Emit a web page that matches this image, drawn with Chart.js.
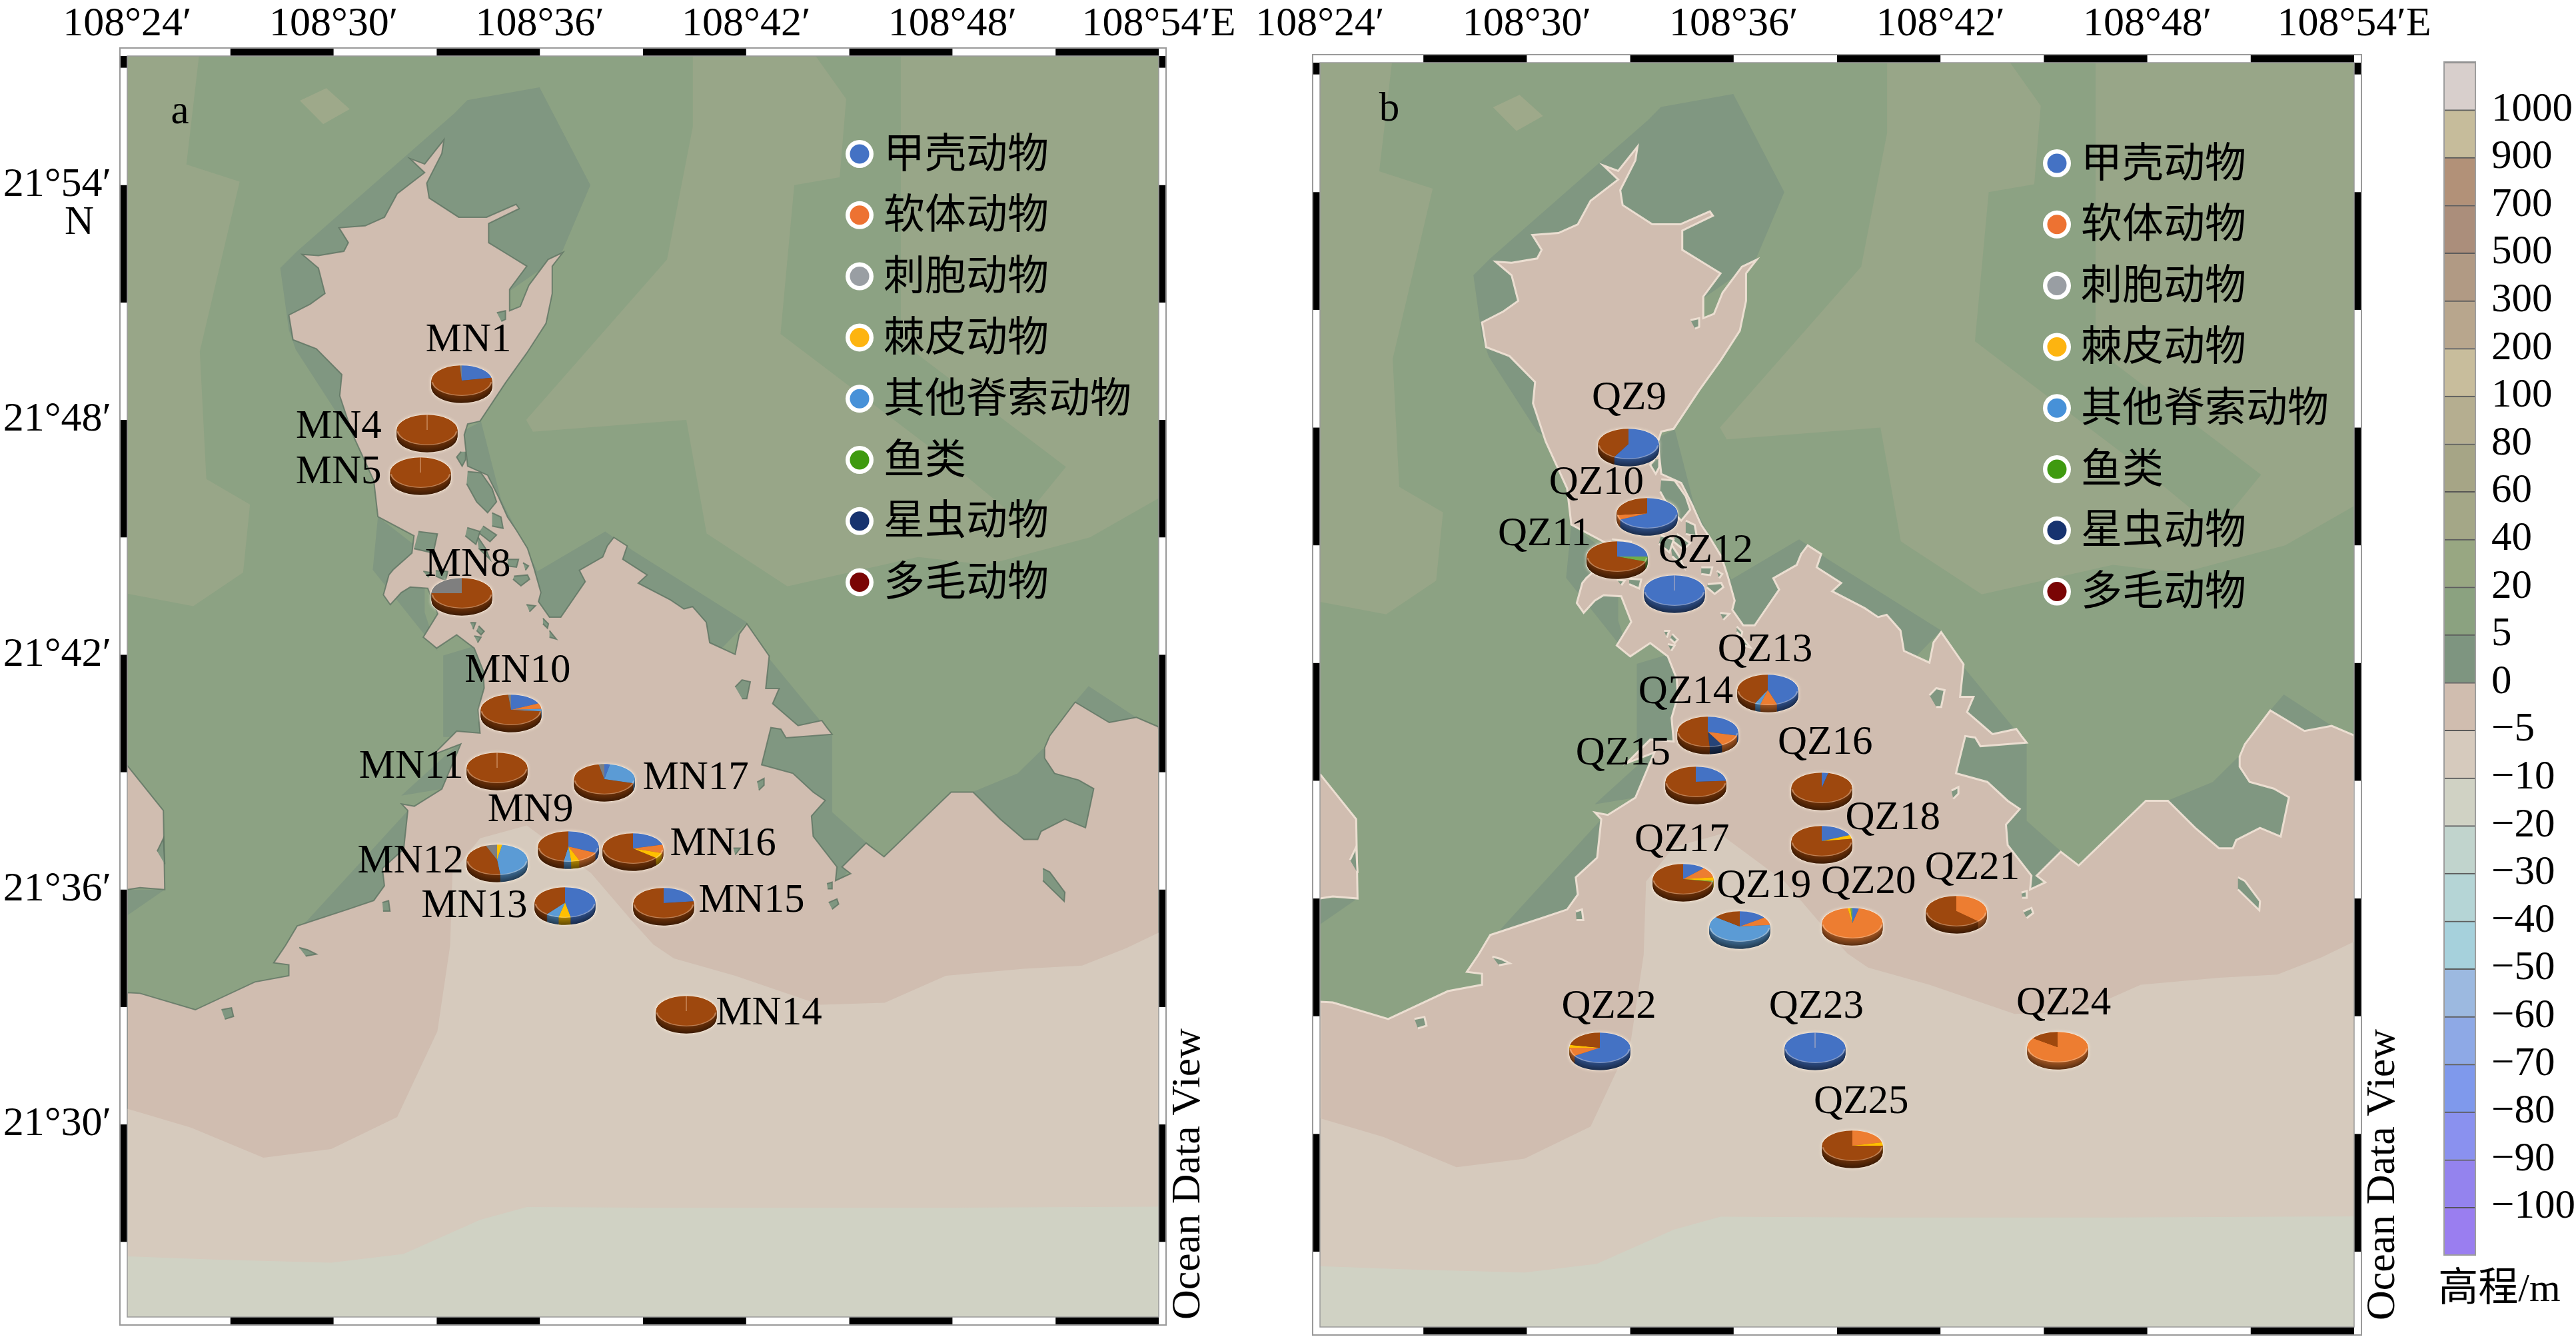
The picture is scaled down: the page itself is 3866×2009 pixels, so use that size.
<!DOCTYPE html>
<html lang="zh">
<head>
<meta charset="utf-8">
<title>Pie map</title>
<script src="https://cdn.jsdelivr.net/npm/chart.js@4"></script>
<style>
html,body{margin:0;padding:0;background:#fff}
#stage{position:relative;width:3866px;height:2009px;overflow:hidden;background:#fff}
#stage canvas{position:absolute}
</style>
</head>
<body>
<div id="stage"></div>
<script>
/* ---------- DATA: longitude = 108° + minutes, latitude = 21° + minutes ---------- */
const lonTicks = [24,30,36,42,48,54];
const lonTickLabels = ["108°24′","108°30′","108°36′","108°42′","108°48′","108°54′E"];
const latTicks = [30,36,42,48,54];
const latTickLabels = ["21°30′","21°36′","21°42′","21°48′","21°54′"];

const sliceNames = ["甲壳动物","软体动物","棘皮动物","其他脊索动物","鱼类","星虫动物","多毛动物","刺胞动物"];
const legendNames = ["甲壳动物","软体动物","刺胞动物","棘皮动物","其他脊索动物","鱼类","星虫动物","多毛动物"];

const mnNames = ["MN1","MN4","MN5","MN8","MN9","MN10","MN11","MN12","MN13","MN14","MN15","MN16","MN17"];
const mnLon = [33.73,32.73,32.53,33.73,36.83,35.16,34.76,34.76,36.73,40.26,39.60,38.71,37.88];
const mnLat = [49.01,47.74,46.66,43.57,37.11,40.60,39.11,36.76,35.67,32.89,35.65,37.05,38.82];
/* shares, column order follows sliceNames */
const mnShares = [
 [22,0,0,0,0,0,77,1],
 [0,0,0,0,0,0,100,0],
 [0,0,0,0,0,0,100,0],
 [0,0,0,0,0,0,75,25],
 [32,12,4.5,4,0,0,47.5,0],
 [18,6,0,2.5,0,0,72,1.5],
 [0,0,0,0,0,0,100,0],
 [0,0,2.7,45.6,0,0,45.7,6],
 [47,0,6.5,7,0,0,39.5,0],
 [0,0,0,0,0,0,100,0],
 [23,0,0,0,0,0,77,0],
 [21,9,6,0,0,0,64,0],
 [3,0,0,26.5,0,0,67.5,3]
];
const qzNames = ["QZ9","QZ10","QZ11","QZ12","QZ13","QZ14","QZ15","QZ16","QZ17","QZ18","QZ19","QZ20","QZ21","QZ22","QZ23","QZ24","QZ25"];
const qzLon = [32.95,33.49,32.62,34.28,36.99,35.25,34.90,38.56,34.54,38.55,36.18,39.45,42.46,32.11,38.36,45.40,39.45];
const qzLat = [47.59,45.82,44.71,43.84,41.31,40.25,38.98,38.82,36.49,37.47,35.28,35.37,35.67,32.19,32.19,32.22,29.70];
const qzShares = [
 [58,0,0,0,0,0,42,0],
 [68,5,0,0,0,0,27,0],
 [25,0,0,0,5.5,0,69.5,0],
 [100,0,0,0,0,0,0,0],
 [45,9,0,3,0,0,43,0],
 [29,13,0,0,0,7,51,0],
 [24,0,0,0,0,0,76,0],
 [3.5,0,0,0,0,0,96.5,0],
 [12,11,4,0,1,0,72,0],
 [18.5,0,4,0,0,0,77.5,0],
 [15,8.5,0,62,0,0,14.5,0],
 [3.5,94,1.5,0,1,0,0,0],
 [0,37,0,0,0,0,63,0],
 [66,9,3,0,0,0,22,0],
 [100,0,0,0,0,0,0,0],
 [0,85,0,0,0,0,15,0],
 [0,21.5,3.5,0,0,0,75,0]
];

const depthLevels = ["−100","−90","−80","−70","−60","−50","−40","−30","−20","−10","−5","0","5","20","40","60","80","100","200","300","500","700","900","1000"];

/* coastline and contour outlines, [lon′, lat′] */
const landFrame = [[24,25],[54,25],[54,58],[24,58]];
const landLightWest = [[24,57.4],[26.1,57.4],[25.72,54.53],[27.27,54.09],[26.11,49.75],[26.3,46.49],[27.57,45.84],[27.37,44.1],[25.92,43.24],[24,43.56]];
const landLightPatch = [[29.02,56.16],[29.79,56.48],[30.47,55.94],[29.7,55.56]];
const landLightEast = [[40.45,57.4],[40.45,55.5],[39.7,52.1],[35.6,48.0],[35.8,47.7],[40.26,48.0],[40.85,45.1],[43.2,43.75],[47,44.5],[49,44.3],[52,45],[54,46],[54,57.4]];
const landMidStrip = [[43.94,57.4],[44.91,56.2],[44.72,54.2],[43.4,54],[43,50.2],[47.8,47],[50,45.4],[51.3,46.8],[46.5,50],[46.5,57.4]];
const landLowBands = [
 [[28.45,51.88],[28.7,50.3],[28.9,49.8],[30.3,47.9],[31,47.5],[33,50],[36.6,52.2],[37.47,54],[35.99,56.5],[33.89,56.17],[33.52,55.84],[28.94,52.31]],
 [[34.29,47.96],[34.87,45.97],[35.93,44.13],[37.9,45.15],[38.71,44.66],[42.02,42.83],[41,41.9],[35,42],[33.5,47.6]],
 [[42.67,41.9],[44.15,40.32],[43.5,40],[42.5,41]],
 [[42.7,40.2],[44.5,39.97],[44.5,37.98],[45.5,37.2],[44.6,36],[43.5,37.5],[42.3,39]],
 [[48.6,38.5],[49.9,38.97],[50.63,39.6],[52.2,38.6],[51.9,37.5],[50,37.2]],
 [[51.96,41.2],[53.35,40.4],[52.56,40.2],[51.57,40.8]],
 [[33.19,41.98],[33.19,39.9],[34.4,39.9],[34.4,42.3]],
 [[33.7,39.78],[31.97,38.4],[33.15,38.57]],
 [[32.16,38.02],[29.14,35.12],[31.42,35.72],[32.16,36.98]],
 [[31.29,45.53],[31.14,44.17],[33.02,42.1],[32.65,43.08],[32.65,44.6]],
 [[24,36],[25.09,36],[24,35.34]]
];
const seaWestPocket = [[24,39.17],[25.05,38.02],[25.09,36],[24.37,36.05],[24,36]];
const seaShallow = [[24,25],[24,33.37],[24.37,33.35],[25.98,32.93],[27.71,33.64],[28.7,33.8],[28.7,34.08],[28.26,34.13],[28.6,34.57],[28.94,35.07],[30.43,35.5],[31.17,35.72],[31.48,36.1],[31.42,36.54],[32.04,37.04],[32.16,38.02],[31.98,38.19],[32.35,38.13],[33.15,38.57],[33.7,39.72],[32.9,39.45],[33.58,40.05],[34.26,40],[34.2,40.6],[34.38,41.15],[34.35,41.6],[34.09,42.17],[33.58,42.51],[33,42.17],[32.61,42.45],[33.03,43.05],[32.74,43.7],[32.23,43.73],[31.97,43.59],[31.65,43.28],[31.45,43.53],[31.61,44.04],[31.73,44.17],[32.28,44.6],[32.34,45.04],[31.29,45.53],[31.17,46.45],[30.55,47.64],[30.18,48.62],[30.24,49.16],[29.5,49.82],[28.82,50.05],[28.7,50.68],[29.32,50.96],[29.75,51.23],[29.56,51.88],[29.09,52.23],[29.56,52.2],[30.3,52.31],[30.43,52.53],[30.16,52.91],[30.92,52.96],[31.48,53.18],[31.85,53.78],[32.65,54.32],[32.22,54.68],[32.65,54.54],[33.21,55.16],[33.15,54.81],[32.71,54.05],[32.78,53.67],[33.64,53.18],[34.45,53.18],[35.31,53.51],[35.4,53.4],[34.51,53.02],[34.51,52.53],[35.12,52.2],[35.62,51.93],[35.12,51.34],[35.12,50.79],[35.43,50.9],[35.68,51.44],[36.24,52.1],[36.67,52.28],[36.36,51.93],[36.36,51.23],[36.18,50.47],[35.62,49.71],[35,48.95],[34.26,47.97],[33.9,47.9],[33.8,47.62],[33.9,46.82],[34.48,46.59],[34.8,46.03],[35.06,45.52],[35.32,45.18],[35.64,44.72],[35.83,44.21],[36.03,43.59],[35.96,43.36],[36.28,42.96],[36.61,42.96],[37.32,43.87],[37.15,44.16],[37.83,44.5],[37.96,44.78],[38.15,45],[38.54,44.78],[38.41,44.44],[39.12,44.04],[38.86,43.83],[39.8,43.4],[40.19,43.17],[40.44,43.23],[40.84,42.83],[40.94,42.31],[41.68,42.01],[41.8,42.53],[42.02,42.79],[42.67,41.97],[42.57,41.14],[42.96,41.14],[42.77,40.75],[43.51,40.19],[44.2,40.32],[44.35,40.14],[44.5,39.97],[43.16,39.88],[43.01,40.1],[42.72,40.14],[42.45,39.19],[43.36,38.97],[43.95,38.49],[44.3,38.28],[43.9,37.88],[43.95,37.36],[44.64,36.58],[44.6,36.23],[45.04,36.41],[44.79,36.58],[45.49,37.19],[46.01,36.84],[47.96,38.49],[48.6,38.49],[49.39,37.8],[50.08,37.28],[50.48,37.28],[50.58,37.49],[51.27,37.8],[51.87,37.58],[52.11,38.58],[51.67,38.8],[50.97,38.97],[50.68,39.36],[50.68,39.62],[50.83,39.93],[51.57,40.79],[52.56,40.27],[53.35,40.4],[53.99,40.16],[54,40.1],[54,25]];
const seaMiddle = [[24,30.4],[25.85,29.92],[27.96,29.15],[29.93,29.37],[31.85,30.19],[33.02,32.38],[33.39,34.57],[33.46,36.44],[34.26,37.31],[35.62,37.64],[37.49,36.42],[38.71,35.17],[39.3,34.6],[39.9,34.24],[41.68,33.8],[44.15,33.06],[46.03,33.11],[47.81,33.8],[50.08,33.98],[51.77,34.06],[53.05,34.5],[54,34.9],[54,25],[24,25]];
const seaDeep = [[24,26.63],[26.5,26.55],[29.93,26.47],[32.03,26.69],[34.26,27.56],[35.62,27.89],[40,27.87],[47,27.87],[54,27.9],[54,25],[24,25]];
const islands = [
 [[33.71,47.19],[33.58,47.05],[33.74,46.82],[33.84,46.99],[33.84,47.19]],
 [[33.9,46.68],[34.29,46.65],[34.61,46.25],[34.74,45.91],[34.48,45.63],[34.16,45.91],[33.87,46.37]],
 [[34.61,45.63],[34.87,45.52],[34.93,45.23],[34.61,45.29]],
 [[34.35,45.29],[34.74,45.06],[34.55,44.89],[34.22,45.12]],
 [[34.16,45.06],[34.42,44.72],[34.55,44.44],[34.22,44.72]],
 [[35.06,44.44],[35.38,44.44],[35.32,44.24],[35.06,44.27]],
 [[35.51,44.35],[35.67,44.27],[35.58,44.16]],
 [[35.25,44.01],[35.64,44.04],[35.7,43.93],[35.45,43.76],[35.22,43.93]],
 [[32.97,44.15],[33.32,44.13],[33.26,43.9],[32.97,44.01]],
 [[32.61,44.13],[32.84,44.1],[32.74,43.98]],
 [[35.61,43.28],[35.87,43.25],[35.7,43.1]],
 [[36.09,42.93],[36.25,42.79],[36.22,42.68],[36.09,42.79]],
 [[36.28,42.62],[36.48,42.4],[36.28,42.45]],
 [[33.98,42.82],[34.13,42.82],[34.06,42.65]],
 [[34.22,42.74],[34.38,42.6],[34.29,42.51],[34.16,42.62]],
 [[34.09,42.48],[34.29,42.45],[34.19,42.31]],
 [[34.75,50.74],[35,50.79],[35,50.57],[34.88,50.52]],
 [[33.89,45.25],[34.26,45.15],[34.14,44.82],[33.83,45.04]],
 [[32.47,45.15],[33.02,45.09],[32.9,44.6],[32.34,44.71]],
 [[41.68,41.18],[41.88,41.36],[42.12,41.31],[42.02,40.88],[41.88,40.88]],
 [[42.32,38.75],[42.52,38.84],[42.52,38.67],[42.37,38.54]],
 [[44.35,36.15],[44.5,36.19],[44.5,36.02],[44.37,36.02]],
 [[44.4,35.67],[44.64,35.76],[44.69,35.63],[44.5,35.5]],
 [[50.63,36.54],[50.83,36.45],[51.27,35.93],[51.25,35.7],[50.63,36.23]],
 [[41.63,37.06],[41.83,37.06],[41.68,36.89]],
 [[31.42,35.67],[31.6,35.72],[31.64,35.45],[31.44,35.45]],
 [[29,34.52],[29.25,34.46],[29.5,34.35],[29.19,34.3]],
 [[26.74,32.93],[27.03,32.98],[27.09,32.76],[26.84,32.69]],
 [[24.87,36.98],[25.05,37.31],[25.09,36.65]]
];

/* ---------- STYLE AND LAYOUT ---------- */
const SERIF = '"Liberation Serif","Noto Sans CJK SC"';
const CJK = '"Noto Sans CJK SC","Liberation Serif"';
const sliceColors = ["#4472c4","#ed7d31","#ffc000","#5b9bd5","#70ad47","#264478","#9e480e","#7f7f7f"];
const legendColors = ["#4472c4","#ed7232","#999ea3","#fdb410","#4791d8","#3f9a10","#17336f","#7a0505"];
const bandColors = ["#9a7ef0","#9483ee","#8a91ef","#7f99ec","#8ea9e6","#9cb9e0","#a6d1dc","#b5d5d6","#c1d4cd","#d0d2c4","#d6cabd","#d0bdaf","#7e9580","#8ba280","#98a782","#a4a787","#a6a586","#b5ae90","#c8bd9c","#b8a68d","#b19a84","#ab8e7b","#b29178","#c6bc9b","#d8cfcc"];
const MAP = {LAND:"#8ca283",LIGHT:"#98a688",PATCH:"#9ea98a",LOW:"#809781",SEA1:"#d0bdb0",SEA2:"#d6cabd",SEA3:"#d0d2c4"};
const stage = document.getElementById("stage");
Chart.defaults.devicePixelRatio = 1;
Chart.defaults.font.family = SERIF;

function addCanvas(left, top, w, h){
  const c = document.createElement("canvas");
  c.width = w; c.height = h;
  c.style.left = left+"px"; c.style.top = top+"px";
  c.style.width = w+"px"; c.style.height = h+"px";
  stage.appendChild(c);
  return c;
}
function poly(pts, color, stroke, sw){
  return {data:pts.map(p=>({x:p[0],y:p[1]})),showLine:true,fill:"shape",backgroundColor:color,
    borderColor:stroke||color,borderWidth:stroke?sw:0,pointRadius:0,tension:0};
}
const labelGaps = {
 a:[[10,-60],[-133,-4],[-123,0],[9,-42],[-57,-54],[10,-58],[-129,-1],[-130,3],[-136,6],[124,4],[132,-3],[135,-6],[137,-1]],
 b:[[1,-68],[-76,-45],[-109,-33],[47,-59],[-4,-59],[-33,-59],[-109,-42],[5,-67],[-2,-58],[107,-34],[36,-60],[24,-61],[24,-65],[14,-61],[2,-61],[9,-65],[13,-65]]
};

function panelDeco(cfg){
  return {id:"deco"+cfg.key, afterDraw(chart){
    const {ctx,chartArea:A,scales:{x,y}} = chart;
    const tx=cfg.tx, ty=cfg.ty;
    ctx.save();
    ctx.fillStyle="#fff";
    ctx.fillRect(A.left-tx,A.top-ty,A.right-A.left+2*tx,ty);
    ctx.fillRect(A.left-tx,A.bottom,A.right-A.left+2*tx,ty);
    ctx.fillRect(A.left-tx,A.top,tx,A.bottom-A.top);
    ctx.fillRect(A.right,A.top,tx,A.bottom-A.top);
    ctx.fillStyle="#000";
    for(let v=27;v<54;v+=6){
      const a=x.getPixelForValue(v), b=x.getPixelForValue(v+3);
      ctx.fillRect(a,A.top-ty,b-a,ty);
      ctx.fillRect(a,A.bottom,b-a,ty);
    }
    const latSpans=[[57,y.max]];
    for(let v=51;v>=27;v-=6) latSpans.push([v,v+3]);
    latSpans.forEach(([lo,hi])=>{
      const a=y.getPixelForValue(hi), b=y.getPixelForValue(lo);
      ctx.fillRect(A.left-tx,a,tx,b-a);
      ctx.fillRect(A.right,a,tx,b-a);
    });
    ctx.strokeStyle="#9a9a9a"; ctx.lineWidth=2;
    ctx.strokeRect(A.left-tx,A.top-ty,A.right-A.left+2*tx,A.bottom-A.top+2*ty);
    ctx.lineWidth=1.5;
    ctx.strokeRect(A.left,A.top,A.right-A.left,A.bottom-A.top);

    /* station labels */
    ctx.fillStyle="#000"; ctx.textAlign="center"; ctx.textBaseline="middle";
    ctx.font="61px "+SERIF;
    cfg.names.forEach((n,i)=>{
      const g=labelGaps[cfg.key][i];
      ctx.fillText(n,x.getPixelForValue(cfg.lon[i])+g[0],y.getPixelForValue(cfg.lat[i])+g[1]);
    });
    /* panel letter */
    ctx.fillText(cfg.key,cfg.letter[0],cfg.letter[1]);
    if(cfg.north) ctx.fillText("N",cfg.north[0],cfg.north[1]);

    /* legend */
    legendNames.forEach((n,i)=>{
      const ly=cfg.legendY+i*91.8;
      ctx.beginPath(); ctx.arc(cfg.legendX,ly,21,0,Math.PI*2); ctx.fillStyle="#fff"; ctx.fill();
      ctx.beginPath(); ctx.arc(cfg.legendX,ly,14.5,0,Math.PI*2); ctx.fillStyle=legendColors[i]; ctx.fill();
      ctx.fillStyle="#000"; ctx.textAlign="left"; ctx.font="62px "+CJK;
      ctx.fillText(n,cfg.legendX+36,ly-3);
    });

    /* vertical credit */
    ctx.save();
    ctx.translate(cfg.credit[0],cfg.credit[1]);
    ctx.rotate(-Math.PI/2);
    ctx.font="62px "+SERIF; ctx.textAlign="left"; ctx.textBaseline="alphabetic";
    ctx.fillText("Ocean Data View",0,0);
    ctx.restore();
    ctx.restore();
  }};
}

function makePanel(cfg){
  const c=addCanvas(cfg.canvasLeft,0,cfg.canvasW,2009);
  const coast=cfg.coast, cw=cfg.coastW;
  const layers=[
    poly(landFrame,MAP.LAND),
    poly(landLightWest,MAP.LIGHT),
    poly(landLightEast,MAP.LIGHT),
    poly(landMidStrip,MAP.LAND),
    poly(landLightPatch,MAP.PATCH),
    ...landLowBands.map(p=>poly(p,MAP.LOW)),
    poly(seaWestPocket,MAP.SEA1,coast,cw),
    poly(seaShallow,MAP.SEA1,coast,cw),
    poly(seaMiddle,MAP.SEA2),
    poly(seaDeep,MAP.SEA3),
    ...islands.map(p=>poly(p,MAP.LOW,coast,cw))
  ];
  layers.forEach((d,i)=>{d.order=-i;});
  return new Chart(c,{
    type:"scatter",
    data:{datasets:layers},
    options:{
      responsive:false,animation:false,events:[],
      layout:{padding:{right:cfg.padR,bottom:cfg.padB}},
      plugins:{legend:{display:false},tooltip:{enabled:false}},
      scales:{
        x:{type:"linear",position:"top",min:24,max:54,
           grid:{display:false,drawTicks:false},border:{display:false},
           afterFit(s){s.height=cfg.top;s.paddingLeft=0;s.paddingRight=0;},
           afterBuildTicks(s){s.ticks=lonTicks.map(v=>({value:v}));},
           ticks:{autoSkip:false,maxRotation:0,minRotation:0,padding:cfg.xPad,color:"#000",
             font:{size:62,family:SERIF},callback:(v)=>lonTickLabels[lonTicks.indexOf(v)]}},
        y:{type:"linear",position:"left",min:25.08,max:57.3,
           grid:{display:false,drawTicks:false},border:{display:false},
           afterFit(s){s.width=cfg.yWidth;s.paddingTop=0;s.paddingBottom=0;},
           afterBuildTicks(s){s.ticks=latTicks.map(v=>({value:v}));},
           ticks:{display:cfg.yLabels,autoSkip:false,padding:24,color:"#000",
             font:{size:62,family:SERIF},callback:(v)=>latTickLabels[latTicks.indexOf(v)]}}
      }
    },
    plugins:[panelDeco(cfg)]
  });
}

/* flattened 3-D look for each small pie */
const FLAT=0.5, DEPTH=11;
function shade(hex,f){
  const n=parseInt(hex.slice(1),16);
  return "rgb("+[(n>>16)&255,(n>>8)&255,n&255].map(v=>Math.round(v*f)).join(",")+")";
}
const pie3d={
  id:"pie3d",
  beforeDatasetDraw(chart,args){
    const {ctx}=chart, arcs=args.meta.data;
    const cx=arcs[0].x, cy=arcs[0].y, r=arcs[0].outerRadius;
    ctx.save();
    ctx.translate(cx,cy); ctx.scale(1,FLAT); ctx.translate(-cx,-cy);
    ctx.save();
    ctx.shadowColor="rgba(255,240,222,.95)"; ctx.shadowBlur=5;
    ctx.fillStyle="rgba(250,236,220,.85)";
    ctx.beginPath(); ctx.arc(cx,cy+DEPTH/FLAT,r+1,0,Math.PI*2); ctx.fill();
    ctx.beginPath(); ctx.arc(cx,cy,r+1,0,Math.PI*2); ctx.fill();
    ctx.restore();
    for(let d=DEPTH;d>=1;d--){
      ctx.save();
      ctx.translate(0,d/FLAT);
      const f=0.4+0.28*(1-d/DEPTH);
      arcs.forEach((a,i)=>{
        const ghost=Object.create(a);
        ghost.options=Object.assign({},a.options,{backgroundColor:shade(sliceColors[i],f)});
        ghost.draw(ctx);
      });
      ctx.restore();
    }
  },
  afterDatasetDraw(chart,args){
    const {ctx}=chart, arcs=args.meta.data;
    const cx=arcs[0].x, cy=arcs[0].y, r=arcs[0].outerRadius;
    ctx.strokeStyle="rgba(255,235,215,.35)"; ctx.lineWidth=2.5;
    ctx.beginPath(); ctx.arc(cx,cy,r-1,0.1,Math.PI-0.1); ctx.stroke();
    if(arcs.filter(a=>a.circumference>0).length===1){
      ctx.strokeStyle="rgba(255,220,190,.45)"; ctx.lineWidth=1.5;
      ctx.beginPath(); ctx.moveTo(cx,cy); ctx.lineTo(cx,cy-r); ctx.stroke();
    }
    ctx.restore();
  }
};
function makePie(row,px,py){
  const S=112, c=addCanvas(Math.round(px-S/2),Math.round(py-S/2),S,S);
  new Chart(c,{
    type:"pie",
    data:{labels:sliceNames,datasets:[{data:row,backgroundColor:sliceColors,borderWidth:0,clip:false}]},
    options:{responsive:false,animation:false,events:[],layout:{padding:10.5},
      plugins:{legend:{display:false},tooltip:{enabled:false}}},
    plugins:[pie3d]
  });
}

/* ---------- PANELS ---------- */
const panelA={key:"a",canvasLeft:0,canvasW:1860,top:84,yWidth:191,padR:121,padB:33,tx:11,ty:12,xPad:10,yLabels:true,
  names:mnNames,lon:mnLon,lat:mnLat,letter:[270,169],north:[119,335],legendX:1290,legendY:231,credit:[1800,1980],
  coast:"rgba(92,115,98,.8)",coastW:2};
const panelB={key:"b",canvasLeft:1860,canvasW:1800,top:94,yWidth:121,padR:127,padB:18,tx:11,ty:12,xPad:20,yLabels:false,
  names:qzNames,lon:qzLon,lat:qzLat,letter:[225,165],north:null,legendX:1227,legendY:245,credit:[1733,1981],
  coast:"rgba(238,224,212,.95)",coastW:3};
[[panelA,mnShares],[panelB,qzShares]].forEach(([cfg,shares])=>{
  const ch=makePanel(cfg);
  cfg.lon.forEach((lon,i)=>{
    makePie(shares[i],cfg.canvasLeft+ch.scales.x.getPixelForValue(lon),ch.scales.y.getPixelForValue(cfg.lat[i]));
  });
});

/* ---------- COLOUR BAR ---------- */
(function(){
  const left=3640, c=addCanvas(left,0,226,2009);
  new Chart(c,{
    type:"bar",
    data:{labels:["高程"],datasets:bandColors.map(col=>({data:[1],backgroundColor:col,borderColor:"rgba(40,40,40,.75)",
      borderWidth:{top:2,bottom:0,left:0,right:0},borderSkipped:false,barPercentage:1,categoryPercentage:1}))},
    options:{
      responsive:false,animation:false,events:[],
      layout:{padding:{left:28,top:93,bottom:126,right:0}},
      plugins:{legend:{display:false},tooltip:{enabled:false}},
      scales:{
        x:{stacked:true,display:false},
        y:{stacked:true,position:"right",min:0,max:bandColors.length,
           grid:{display:false,drawTicks:false},border:{display:false},
           afterFit(s){s.width=151;s.paddingTop=0;s.paddingBottom=0;},
           afterBuildTicks(s){s.ticks=depthLevels.map((_,i)=>({value:i+1}));},
           ticks:{autoSkip:false,padding:24,color:"#000",font:{size:61,family:SERIF},
             callback:(v)=>depthLevels[v-1]}}
      }
    },
    plugins:[{id:"barDeco",afterDraw(chart){
      const {ctx,chartArea:A}=chart;
      ctx.save();
      ctx.strokeStyle="#9d9d9d"; ctx.lineWidth=2;
      ctx.strokeRect(A.left,A.top,A.right-A.left,A.bottom-A.top);
      ctx.fillStyle="#000"; ctx.font="60px "+SERIF; ctx.textAlign="center"; ctx.textBaseline="middle";
      ctx.fillText("高程/m",3751-left,1936);
      ctx.restore();
    }}]
  });
})();
</script>
</body>
</html>
